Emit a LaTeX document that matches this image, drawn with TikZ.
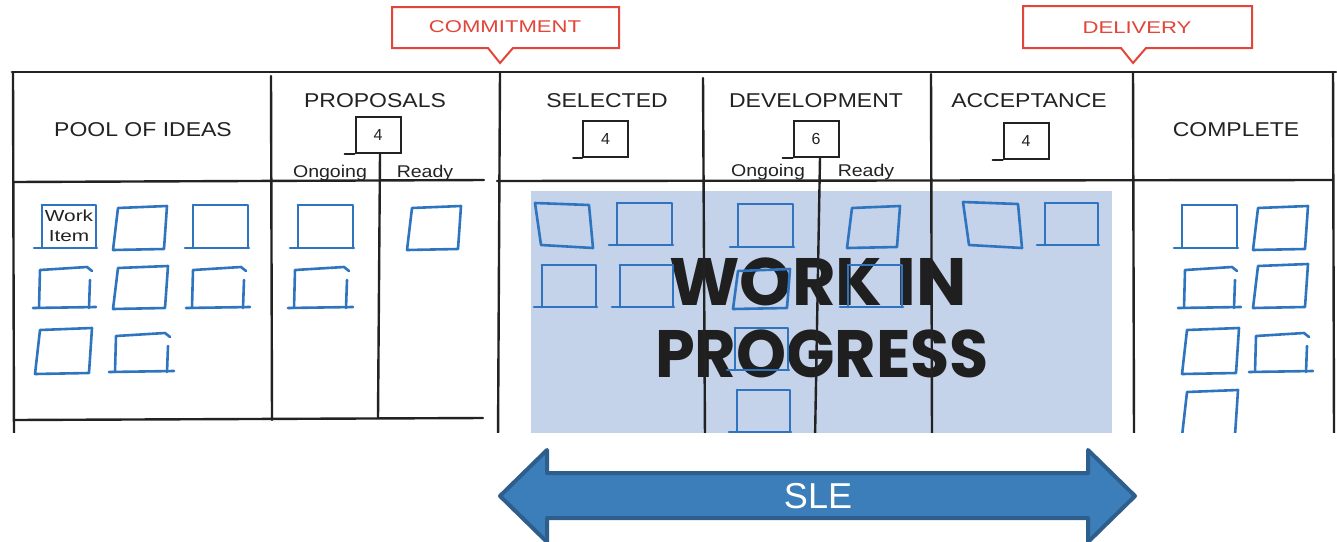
\documentclass[tikz,border=0pt]{standalone}
\usepackage{fontspec}
\usepackage{graphicx}
\setmainfont{Liberation Sans}
\newfontfamily\wipfont{Poppins}
\definecolor{ink}{HTML}{222222}
\definecolor{redc}{HTML}{E2453A}
\definecolor{cardc}{HTML}{2E74BE}
\definecolor{wipbg}{HTML}{C4D2EA}
\definecolor{arrowfill}{HTML}{3B7EBA}
\definecolor{arrowline}{HTML}{2D5E8C}
\newcommand\hw[1]{\scalebox{1.15}[1]{#1}}
\newcommand\rw[1]{\scalebox{1.3}[1]{#1}}
\begin{document}
\begin{tikzpicture}[x=1pt,y=-1pt,
  board/.style={draw=ink, line width=2.4pt, line cap=round},
  cardline/.style={draw=cardc, line width=2.6pt, line cap=round, line join=round},
  head/.style={text=ink, inner sep=0pt, font=\fontsize{20}{24}\selectfont},
  sub/.style={text=ink, inner sep=0pt, anchor=base, font=\fontsize{17}{20}\selectfont},
  limitbox/.style={draw=ink, line width=2pt, minimum width=45pt, minimum height=36pt, inner sep=0pt, text=ink, font=\fontsize{16}{18}\selectfont},
  callout/.style={draw=redc, line width=2pt, line join=miter, fill=white},
  calltext/.style={text=redc, inner sep=0pt, font=\fontsize{17}{20}\selectfont},
  wip/.style={text=black!88, inner sep=0pt, font=\wipfont\bfseries\fontsize{67}{70}\selectfont},
  pics/crdA/.style 2 args={code={
    \draw[cardline] (0,0) -- (#1,0) -- (#1,#2);
    \draw[cardline] (-8,#2) -- (#1+1,#2);
    \draw[cardline] (0,0) -- (0,#2);
  }},
  pics/crdB/.style 2 args={code={
    \draw[cardline] (5,1) -- (#1,-1) -- (#1-3,#2) -- (0,#2+1) -- cycle;
  }},
  pics/crdC/.style 2 args={code={
    \draw[cardline] (2,#2) -- (3,3) -- (#1-5,0) -- (#1,4);
    \draw[cardline] (#1-2,13) -- (#1-3,#2);
    \draw[cardline] (-4,#2) -- (#1+4,#2-1);
  }},
  pics/crdD/.style 2 args={code={
    \draw[cardline] (-2,0) -- (#1-4,2) -- (#1,#2+2) -- (4,#2-1) -- cycle;
  }},
]
\useasboundingbox (0,0) rectangle (1337,541);

\begin{scope}
\clip (0,0) rectangle (1337,432);
% WIP shaded area and big label
\fill[wipbg] (531,191) rectangle (1112,440);
\node[wip] (wip1) at (818,282) {\scalebox{1.0}[1]{WORK IN}};
\node[wip] (wip2) at (822,354) {\scalebox{0.95}[1]{PROGRESS}};

% board lines
\draw[board, line width=2.8pt] (12,72) -- (1336,72);
\draw[board] (13,72) -- (14,440);
\draw[board] (271,76) -- (272,420);
\draw[board] (500,72) -- (498,440);
\draw[board] (703,78) -- (705,440);
\draw[board] (931,74) -- (932,440);
\draw[board] (1133,72) -- (1134,440);
\draw[board] (1333,72) -- (1334,440);
\draw[board] (14,182) -- (484,180);
\draw[board] (497,181) -- (1333,180);
\draw[board] (14,420) -- (483,418);

% headers
\node[head] (pool) at (143,130) {\hw{POOL OF IDEAS}};
\node[head] (prop) at (375,101) {\hw{PROPOSALS}};
\node[head] (sel) at (607,101) {\hw{SELECTED}};
\node[head] (dev) at (816,101) {\hw{DEVELOPMENT}};
\node[head] (acc) at (1029,101) {\hw{ACCEPTANCE}};
\node[head] (comp) at (1236,130) {\hw{COMPLETE}};

% WIP limits
\node[limitbox] (lp) at (378,135) {4};
\node[limitbox] (ls) at (605.5,139) {4};
\node[limitbox] (ld) at (816,138.5) {6};
\node[limitbox] (la) at (1026,141) {4};
\draw[board, line width=2pt] (lp.south west) -- ++(-10,0);
\draw[board, line width=2pt] (ls.south west) -- ++(-9,0);
\draw[board, line width=2pt] (ld.south west) -- ++(-10,0);
\draw[board, line width=2pt] (la.south west) -- ++(-10,0);
\coordinate (pend) at (378,418);
\coordinate (dend) at (815,440);
\draw[board] ([xshift=2pt]lp.south) -- (pend);
\draw[board] ([xshift=4pt]ld.south) -- (dend);

\node[sub] (pon) at (330,177) {\hw{Ongoing}};
\node[sub] (prd) at (425,177) {\hw{Ready}};
\node[sub] (don) at (768,176) {\hw{Ongoing}};
\node[sub] (drd) at (866,176) {\hw{Ready}};

% cards: pool of ideas
\pic at (42,205) {crdA={54}{43}};
\node[text=ink, inner sep=0pt, align=center, font=\fontsize{16}{20}\selectfont] (wi) at (69,226) {\scalebox{1.3}[1]{Work}\\\scalebox{1.3}[1]{Item}};
\pic at (113,207) {crdB={54}{42}};
\pic at (193,205) {crdA={55}{43}};
\pic at (37,267) {crdC={55}{41}};
\pic at (113,267) {crdB={55}{41}};
\pic at (190,267) {crdC={56}{41}};
\pic at (35,329) {crdB={57}{44}};
\pic at (113,333) {crdC={57}{39}};
% proposals
\pic at (298,205) {crdA={55}{43}};
\pic at (407,207) {crdB={54}{42}};
\pic at (292,267) {crdC={57}{41}};
% selected
\pic at (537,203) {crdD={56}{43}};
\pic at (617,203) {crdA={55}{42}};
\pic at (542,265) {crdA={54}{42}};
\pic at (620,265) {crdA={53}{42}};
% development
\pic at (738,204) {crdA={55}{43}};
\pic at (733,270) {crdB={57}{38}};
\pic at (735,328) {crdA={53}{42}};
\pic at (737,390) {crdA={53}{42}};
\pic at (847,207) {crdB={53}{40}};
\pic at (848,265) {crdA={54}{42}};
% acceptance
\pic at (965,202) {crdD={57}{44}};
\pic at (1045,203) {crdA={53}{42}};
% complete
\pic at (1182,205) {crdA={55}{43}};
\pic at (1253,207) {crdB={55}{42}};
\pic at (1182,267) {crdC={55}{41}};
\pic at (1253,265) {crdB={55}{42}};
\pic at (1182,329) {crdB={57}{44}};
\pic at (1253,333) {crdC={56}{39}};
\pic at (1182,391) {crdB={56}{44}};
\end{scope}

% callouts
\draw[callout] (392,7) -- (619,7) -- (619,48) -- (513,48) -- (500,63) -- (488,48) -- (392,48) -- cycle;
\node[calltext] (commit) at (505,27) {\rw{COMMITMENT}};
\draw[callout] (1023,6) -- (1252,6) -- (1252,48) -- (1146,48) -- (1133,63) -- (1121,48) -- (1023,48) -- cycle;
\node[calltext] (deliv) at (1137,28) {\rw{DELIVERY}};

% SLE arrow
\draw[fill=arrowfill, draw=arrowline, line width=4pt, line join=round]
  (500,496) -- (547,450) -- (547,473) -- (1088,473) -- (1088,450) -- (1135,496)
  -- (1088,542) -- (1088,518) -- (547,518) -- (547,542) -- cycle;
\node[text=white, inner sep=0pt, font=\fontsize{36}{40}\selectfont] (sle) at (818,496) {SLE};
\end{tikzpicture}
\end{document}
